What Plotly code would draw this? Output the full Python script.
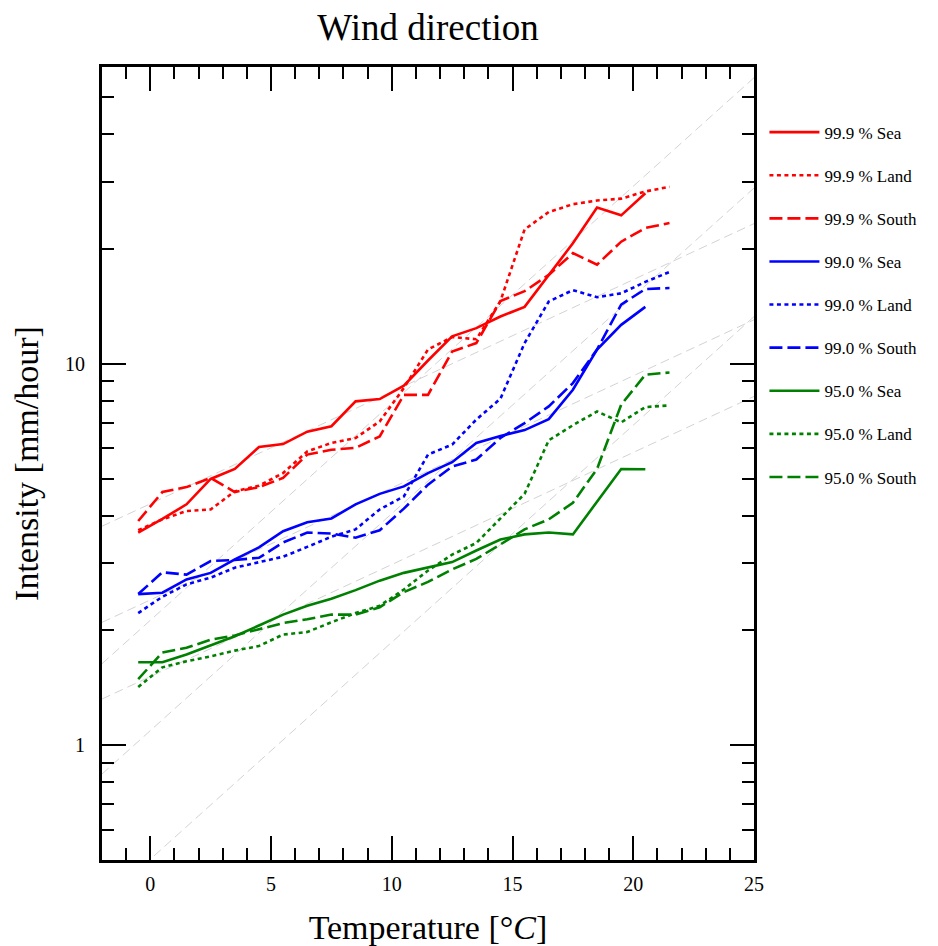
import plotly.graph_objects as go

# Temperature bins (deg C)
temperature = [-0.5, 0.5, 1.5, 2.5, 3.5, 4.5, 5.5, 6.5, 7.5, 8.5, 9.5, 10.5,
               11.5, 12.5, 13.5, 14.5, 15.5, 16.5, 17.5, 18.5, 19.5, 20.5, 21.5]

# Precipitation intensity percentiles (mm/hour); Sea series stop at 20.5 C
p999_sea = [3.61, 3.92, 4.28, 4.99, 5.30, 6.05, 6.16, 6.64, 6.86, 7.97, 8.08, 8.76,
            10.2, 11.8, 12.4, 13.3, 14.1, 17.1, 20.7, 25.7, 24.5, 28.0]
p999_land = [3.66, 3.91, 4.11, 4.15, 4.63, 4.79, 5.17, 5.89, 6.20, 6.39, 7.06, 8.64,
             10.9, 11.75, 11.6, 14.6, 22.5, 25.0, 26.2, 26.8, 27.1, 28.3, 29.1]
p999_south = [3.87, 4.61, 4.75, 5.02, 4.61, 4.75, 5.02, 5.78, 5.95, 6.02, 6.45, 8.29,
              8.29, 10.77, 11.33, 14.6, 15.5, 17.1, 19.5, 18.2, 20.9, 22.7, 23.4]

p990_sea = [2.49, 2.51, 2.72, 2.83, 3.07, 3.30, 3.64, 3.84, 3.93, 4.28, 4.56, 4.77,
            5.17, 5.52, 6.20, 6.47, 6.70, 7.16, 8.55, 10.9, 12.65, 14.1]
p990_land = [2.22, 2.45, 2.64, 2.75, 2.92, 3.02, 3.12, 3.31, 3.52, 3.68, 4.15, 4.49,
             5.78, 6.14, 7.14, 8.10, 11.33, 14.56, 15.6, 14.95, 15.3, 16.4, 17.4]
p990_south = [2.49, 2.84, 2.80, 3.04, 3.06, 3.10, 3.40, 3.61, 3.59, 3.50, 3.66, 4.17,
              4.82, 5.38, 5.61, 6.39, 6.99, 7.73, 8.90, 10.9, 14.3, 15.7, 15.8]

p950_sea = [1.65, 1.65, 1.73, 1.83, 1.93, 2.06, 2.20, 2.32, 2.42, 2.55, 2.70, 2.83,
            2.92, 3.02, 3.24, 3.46, 3.57, 3.61, 3.57, 4.35, 5.30, 5.29]
p950_land = [1.42, 1.60, 1.66, 1.71, 1.77, 1.82, 1.95, 1.98, 2.10, 2.22, 2.32, 2.56,
             2.87, 3.16, 3.39, 3.92, 4.56, 6.30, 6.90, 7.50, 7.02, 7.70, 7.78]
p950_south = [1.49, 1.75, 1.80, 1.89, 1.94, 2.01, 2.09, 2.14, 2.20, 2.20, 2.30, 2.52,
              2.68, 2.89, 3.08, 3.36, 3.68, 3.91, 4.32, 5.30, 7.81, 9.36, 9.49]

series_names = ["99.9 % Sea", "99.9 % Land", "99.9 % South",
                "99.0 % Sea", "99.0 % Land", "99.0 % South",
                "95.0 % Sea", "95.0 % Land", "95.0 % South"]
series_values = [p999_sea, p999_land, p999_south,
                 p990_sea, p990_land, p990_south,
                 p950_sea, p950_land, p950_south]
series_colors = ["red"] * 3 + ["blue"] * 3 + ["green"] * 3
series_dashes = ["solid", "4px,3.5px", "13px,5px"] * 3

# Clausius-Clapeyron style scaling guides: (anchor T, anchor intensity), rates in %/C
guide_anchor_temp = [11.1, 12.45, 17.4]
guide_anchor_value = [9.10, 5.58, 4.91]
guide_rates = [7.0, 14.0]

x_range = [-2, 25]
y_range = [0.5, 60]

fig = go.Figure()

for t0, i0 in zip(guide_anchor_temp, guide_anchor_value):
    for rate in guide_rates:
        ys = [i0 * (1 + rate / 100.0) ** (t - t0) for t in x_range]
        fig.add_trace(go.Scatter(
            x=x_range, y=ys, mode="lines",
            line=dict(color="#d3d3d3", width=1, dash="9px,5px"),
            showlegend=False, hoverinfo="skip"))

for name, vals, col, dash in zip(series_names, series_values, series_colors, series_dashes):
    fig.add_trace(go.Scatter(
        x=temperature[:len(vals)], y=vals, mode="lines", name=name,
        legendgroup=name,
        line=dict(color=col, width=2.6, dash=dash)))

serif = "Liberation Serif, DejaVu Serif, serif"

major_y = [1, 10]
minor_y = [0.6, 0.7, 0.8, 0.9, 2, 3, 4, 5, 6, 7, 8, 9, 20, 30, 40, 50]

fig.update_layout(
    width=938, height=946,
    margin=dict(l=102, r=184, t=67, b=86),
    paper_bgcolor="white", plot_bgcolor="white",
    font=dict(family=serif, color="black"),
    title=dict(text="Wind direction", x=0.5, xref="paper", xanchor="center",
               y=1 - 27 / 946, yref="container", yanchor="middle",
               font=dict(size=37, family=serif, color="black")),
    legend=dict(x=1.016, xanchor="left", y=0.94, yanchor="top",
                font=dict(size=17, family=serif, color="black"),
                tracegroupgap=18, bgcolor="rgba(0,0,0,0)", itemwidth=50),
    showlegend=True,
)

fig.update_xaxes(
    range=x_range, showgrid=False, zeroline=False, automargin=False,
    showline=True, linecolor="black", linewidth=3, mirror="allticks",
    ticks="inside", ticklen=24, tickwidth=2, tickcolor="black",
    tickmode="array", tickvals=[0, 5, 10, 15, 20, 25],
    ticktext=["0", "5", "10", "15", "20", "25"],
    tickfont=dict(size=20, family=serif, color="black"),
    ticklabelstandoff=4,
    minor=dict(tickmode="array", tickvals=[-1, 1, 2, 3, 4, 6, 7, 8, 9, 11, 12, 13, 14,
                                           16, 17, 18, 19, 21, 22, 23, 24],
               ticks="inside", ticklen=12, tickwidth=2, tickcolor="black", showgrid=False),
    title=dict(text="Temperature [°<i>C</i>]", font=dict(size=34, family=serif, color="black"),
               standoff=24),
)

fig.update_yaxes(
    type="log", range=[-0.30103, 1.778151], showgrid=False, zeroline=False, automargin=False,
    showline=True, linecolor="black", linewidth=3, mirror="allticks",
    ticks="inside", ticklen=24, tickwidth=2, tickcolor="black",
    tickmode="array", tickvals=major_y, ticktext=["1", "10"],
    tickfont=dict(size=20, family=serif, color="black"),
    ticklabelstandoff=10,
    minor=dict(tickmode="array", tickvals=minor_y,
               ticks="inside", ticklen=12, tickwidth=2, tickcolor="black", showgrid=False),
    title=dict(text="Intensity [mm/hour]", font=dict(size=34, family=serif, color="black"),
               standoff=17),
)

fig.write_html("out.html")
